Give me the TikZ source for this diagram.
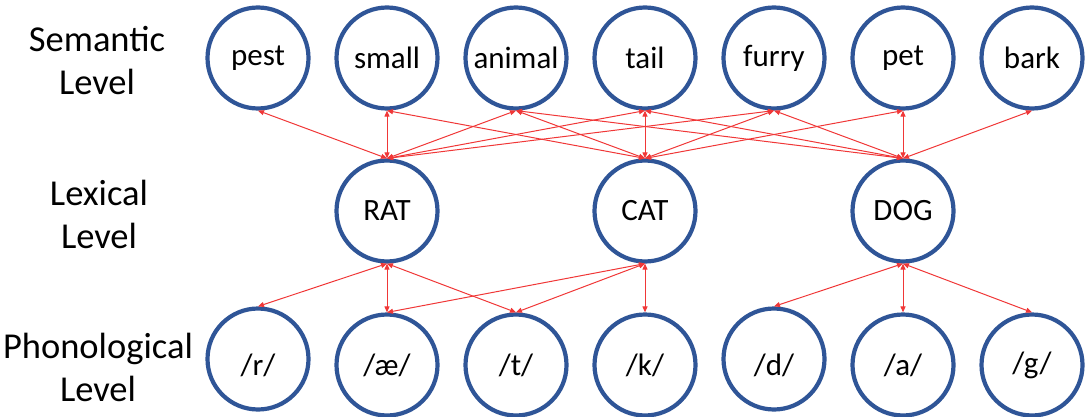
\documentclass[tikz,border=0pt]{standalone}
\usepackage{fontspec}
\setmainfont{Carlito}
\usetikzlibrary{arrows.meta}
\definecolor{cblue}{RGB}{47,85,151}
\definecolor{cred}{RGB}{240,55,55}
\begin{document}
\begin{tikzpicture}[x=1pt,y=-1pt,
  unit/.style={circle,draw=cblue,line width=4.2pt,minimum size=101pt,inner sep=0pt,font=\fontsize{31}{36}\selectfont},
  lvl/.style={align=center,font=\fontsize{36.5}{43}\selectfont},
  link/.style={cred,line width=1pt,{Triangle[length=6pt,width=5pt]}-{Triangle[length=6pt,width=5pt]}}]
\useasboundingbox (0,0) rectangle (1086,417);
% level labels
\node[lvl] (Lsem) at (97,61) {Semantic\\Level};
\node[lvl] (Llex) at (99,214) {Lexical\\Level};
\node[lvl] (Lpho) at (98,367) {Phonological\\Level};
% semantic
\node[unit] (pest) at (258,58) {pest};
\node[unit] (small) at (387,58) {small};
\node[unit] (animal) at (516,58) {animal};
\node[unit] (tail) at (645,58) {tail};
\node[unit] (furry) at (774,58) {furry};
\node[unit] (pet) at (903,58) {pet};
\node[unit] (bark) at (1032,58) {bark};
% lexical
\node[unit] (rat) at (387,211) {RAT};
\node[unit] (cat) at (645,211) {CAT};
\node[unit] (dog) at (903,211) {DOG};
% phonological
\node[unit] (r) at (258,359) {\raisebox{-6pt}[\height][\depth]{/r/}};
\node[unit] (ae) at (387,365) {/æ/};
\node[unit] (t) at (516,365) {/t/};
\node[unit] (k) at (645,365) {/k/};
\node[unit] (d) at (774,359) {\raisebox{-6pt}[\height][\depth]{/d/}};
\node[unit] (a) at (903,365) {/a/};
\node[unit] (g) at (1032,365) {/g/};
% semantic links
\foreach \s in {pest,small,animal,tail,furry} \draw[link] (rat.north) -- (\s.south);
\foreach \s in {small,animal,tail,furry,pet} \draw[link] (cat.north) -- (\s.south);
\foreach \s in {animal,tail,furry,pet,bark} \draw[link] (dog.north) -- (\s.south);
% phonological links
\foreach \p in {r,ae,t} \draw[link] (rat.south) -- (\p.north);
\foreach \p in {ae,t,k} \draw[link] (cat.south) -- (\p.north);
\foreach \p in {d,a,g} \draw[link] (dog.south) -- (\p.north);
\end{tikzpicture}
\end{document}
